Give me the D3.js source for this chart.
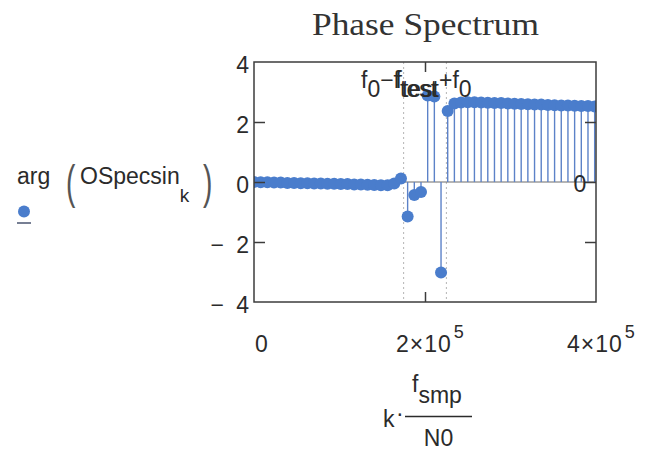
<!DOCTYPE html>
<html>
<head>
<meta charset="utf-8">
<script src="https://cdn.jsdelivr.net/npm/d3@7"></script>
<style>
  html, body { margin: 0; padding: 0; background: #ffffff; }
  svg { display: block; }
  text { font-family: "Liberation Sans", Arial, sans-serif; fill: #2b2b2b; }
</style>
</head>
<body>
<script>
// Sampling setup: bin k lies at k·fsmp/N0
const fsmp = 1e6;
const N0 = 128;
const bins = d3.range(0, 52);

// arg(OSpecsin_k) in radians, one value per bin k = 0..51
const phase = [
   0.00, -0.01, -0.01, -0.02, -0.02, -0.03, -0.03, -0.04, -0.04, -0.05,
  -0.05, -0.06, -0.06, -0.07, -0.07, -0.08, -0.08, -0.09, -0.10, -0.11,
  -0.11, -0.05,  0.12, -1.15, -0.43, -0.33,  2.88,  2.85, -3.02,  2.37,
   2.62,  2.65,  2.66,  2.66,  2.65,  2.64,  2.63,  2.63,  2.62,  2.61,
   2.60,  2.59,  2.58,  2.58,  2.57,  2.56,  2.55,  2.55,  2.54,  2.53,
   2.53,  2.52
];

// Axis ticks
const xTicks = [0, 2e5, 4e5];
const xTickMantissa = ["0", "2", "4"];
const yTicks = [-4, -2, 0, 2, 4];
const yInnerTicks = [-2, 0, 2];
const xInnerTicks = [2e5];

// Marker positions: f0 − ftest and ftest + f0, plus the zero level
const f0 = 2e5;
const ftest = 25e3;
const markerFreqs = [f0 - ftest, ftest + f0];
const markerLevels = [0];

const W = 646, H = 450;
const plot = { left: 254, right: 596, top: 62, bottom: 302 };

const x = d3.scaleLinear().domain([0, 4e5]).range([plot.left, plot.right]);
const y = d3.scaleLinear().domain([-4, 4]).range([plot.bottom, plot.top]);

const data = bins.map((k, i) => ({ k, f: k * fsmp / N0, v: phase[i] }));

const svg = d3.select("body").append("svg")
  .attr("width", W).attr("height", H)
  .attr("viewBox", `0 0 ${W} ${H}`);

svg.append("rect").attr("width", W).attr("height", H).attr("fill", "#ffffff");

svg.append("defs").append("clipPath").attr("id", "plotClip")
  .append("rect")
  .attr("x", plot.left).attr("y", plot.top)
  .attr("width", plot.right - plot.left).attr("height", plot.bottom - plot.top);

// Title
svg.append("text")
  .attr("x", 425.5).attr("y", 34.5)
  .attr("text-anchor", "middle")
  .attr("textLength", 227).attr("lengthAdjust", "spacingAndGlyphs")
  .style("font-family", "'Liberation Serif', 'Times New Roman', serif")
  .style("font-size", "32px")
  .style("fill", "#333")
  .text("Phase Spectrum");

const inner = svg.append("g").attr("clip-path", "url(#plotClip)");

// Vertical markers (dotted)
inner.selectAll("line.vmark").data(markerFreqs).join("line")
  .attr("class", "vmark")
  .attr("x1", d => x(d)).attr("x2", d => x(d))
  .attr("y1", plot.top).attr("y2", plot.bottom)
  .attr("stroke", "#b4b4b4").attr("stroke-width", 1)
  .attr("stroke-dasharray", "2,3");

// Horizontal marker at the zero level
inner.selectAll("line.hmark").data(markerLevels).join("line")
  .attr("class", "hmark")
  .attr("x1", plot.left).attr("x2", plot.right)
  .attr("y1", d => y(d)).attr("y2", d => y(d))
  .attr("stroke", "#6a6a6a").attr("stroke-width", 1);

// Stems
inner.selectAll("line.stem").data(data).join("line")
  .attr("class", "stem")
  .attr("x1", d => x(d.f)).attr("x2", d => x(d.f))
  .attr("y1", y(0)).attr("y2", d => y(d.v))
  .attr("stroke", "#5c82c8").attr("stroke-width", 1.4);

// Stem heads
inner.selectAll("circle.head").data(data).join("circle")
  .attr("class", "head")
  .attr("cx", d => x(d.f)).attr("cy", d => y(d.v))
  .attr("r", 6)
  .attr("fill", "#4a7dcc");

// Frame
svg.append("rect")
  .attr("x", plot.left).attr("y", plot.top)
  .attr("width", plot.right - plot.left).attr("height", plot.bottom - plot.top)
  .attr("fill", "none").attr("stroke", "#3c3c3c").attr("stroke-width", 1.5);

// Inward tick marks on all four sides
function tickStyle(g) {
  g.select(".domain").remove();
  g.selectAll(".tick line").attr("stroke", "#3c3c3c").attr("stroke-width", 1.5);
  g.selectAll(".tick text").remove();
}
svg.append("g").attr("transform", `translate(${plot.left},0)`)
  .call(d3.axisLeft(y).tickValues(yInnerTicks).tickSize(-11).tickFormat(""))
  .call(tickStyle);
svg.append("g").attr("transform", `translate(${plot.right},0)`)
  .call(d3.axisRight(y).tickValues(yInnerTicks).tickSize(-11).tickFormat(""))
  .call(tickStyle);
svg.append("g").attr("transform", `translate(0,${plot.top})`)
  .call(d3.axisTop(x).tickValues(xInnerTicks).tickSize(-10).tickFormat(""))
  .call(tickStyle);
svg.append("g").attr("transform", `translate(0,${plot.bottom})`)
  .call(d3.axisBottom(x).tickValues(xInnerTicks).tickSize(-10).tickFormat(""))
  .call(tickStyle);

// Y tick labels: sign and magnitude set apart
const yLab = svg.append("g").style("font-size", "23px");
yTicks.forEach(t => {
  yLab.append("text")
    .attr("x", plot.left - 5).attr("y", y(t) + 10.5)
    .attr("text-anchor", "end")
    .text(Math.abs(t));
  if (t < 0) {
    yLab.append("text")
      .attr("x", plot.left - 30).attr("y", y(t) + 10.5)
      .attr("text-anchor", "end")
      .text("\u2212");
  }
});

// X tick labels in m×10^5 form
const xLab = svg.append("g").style("font-size", "23px");
xTicks.forEach((t, i) => {
  if (t === 0) {
    xLab.append("text")
      .attr("x", x(t) + 7.5).attr("y", 352)
      .attr("text-anchor", "middle")
      .text("0");
  } else {
    const tx = xLab.append("text")
      .attr("x", x(t) - 29).attr("y", 352)
      .attr("text-anchor", "start")
      .style("letter-spacing", "1px");
    tx.append("tspan").text(xTickMantissa[i] + "\u00d710");
    tx.append("tspan").attr("dy", -14).attr("dx", 2).style("font-size", "18px").text("5");
  }
});

// Marker labels; the shared "ftest" part of both labels lands almost on top of itself
const mLab = svg.append("g").style("font-size", "23px").style("fill", "#333");
const m1 = mLab.append("text").attr("x", 361).attr("y", 88);
m1.append("tspan").text("f");
m1.append("tspan").attr("dy", 9).text("0");
m1.append("tspan").attr("dy", -9).text("\u2212f");
m1.append("tspan").attr("dy", 9).text("test");

const m2 = mLab.append("text").attr("x", 395.5).attr("y", 88);
m2.append("tspan").text("f");
m2.append("tspan").attr("dy", 9).text("test");
m2.append("tspan").attr("dy", -9).text("+f");
m2.append("tspan").attr("dy", 9).text("0");

mLab.append("text")
  .attr("x", x(4e5) - 16).attr("y", y(markerLevels[0]) + 10)
  .attr("text-anchor", "middle")
  .text(markerLevels[0]);

// Y-axis expression: arg(OSpecsin_k)
const yExpr = svg.append("g").style("font-size", "23px");
yExpr.append("text").attr("x", 17).attr("y", 184).text("arg");
yExpr.append("text")
  .attr("transform", "translate(66,198) scale(0.6,1)")
  .style("font-size", "47px").style("fill", "#555")
  .text("(");
const osp = yExpr.append("text").attr("x", 80).attr("y", 184);
osp.append("tspan").text("OSpecsin");
osp.append("tspan").attr("dy", 18).style("font-size", "19px").text("k");
yExpr.append("text")
  .attr("transform", "translate(203,198) scale(0.6,1)")
  .style("font-size", "47px").style("fill", "#555")
  .text(")");

// Legend symbol for the stem trace
svg.append("circle").attr("cx", 24).attr("cy", 211.5).attr("r", 6).attr("fill", "#4a7dcc");
svg.append("line")
  .attr("x1", 17).attr("x2", 31).attr("y1", 223).attr("y2", 223)
  .attr("stroke", "#4a5570").attr("stroke-width", 1.5);

// X-axis expression: k·fsmp/N0
const xExpr = svg.append("g").style("font-size", "23px");
xExpr.append("text").attr("x", 383).attr("y", 427).text("k");
xExpr.append("text").attr("x", 396).attr("y", 421).text("\u00b7");
xExpr.append("line")
  .attr("x1", 405).attr("x2", 472).attr("y1", 416.5).attr("y2", 416.5)
  .attr("stroke", "#2b2b2b").attr("stroke-width", 1.5);
const num = xExpr.append("text").attr("x", 412).attr("y", 392);
num.append("tspan").text("f");
num.append("tspan").attr("dy", 11).text("smp");
xExpr.append("text").attr("x", 438.5).attr("y", 446).attr("text-anchor", "middle").text("N0");
</script>
</body>
</html>
